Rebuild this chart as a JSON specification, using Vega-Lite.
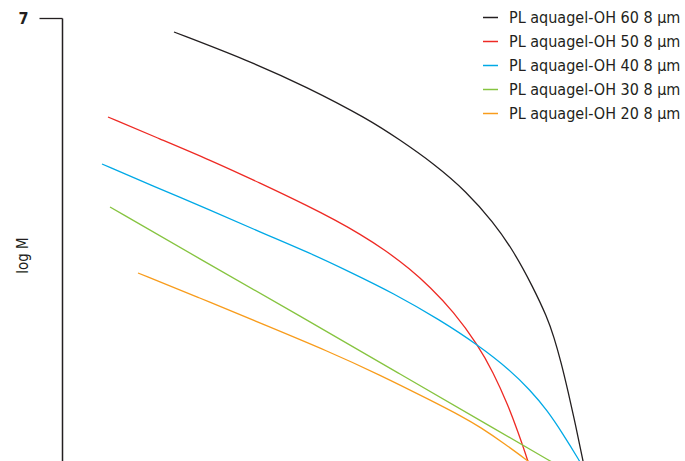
{
  "$schema": "https://vega.github.io/schema/vega-lite/v6.json",
  "width": 623,
  "height": 443,
  "autosize": {"type": "none"},
  "padding": {"left": 62, "top": 18, "right": 0, "bottom": 0},
  "background": "white",
  "config": {"view": {"stroke": null}, "font": "DejaVu Sans Condensed"},
  "data": {"values": [
    {"s": "PL aquagel-OH 60 8 µm", "x": 2.24, "y": 6.86},
    {"s": "PL aquagel-OH 60 8 µm", "x": 3.70, "y": 6.58},
    {"s": "PL aquagel-OH 60 8 µm", "x": 4.90, "y": 6.31},
    {"s": "PL aquagel-OH 60 8 µm", "x": 6.12, "y": 5.99},
    {"s": "PL aquagel-OH 60 8 µm", "x": 6.76, "y": 5.78},
    {"s": "PL aquagel-OH 60 8 µm", "x": 7.42, "y": 5.55},
    {"s": "PL aquagel-OH 60 8 µm", "x": 8.10, "y": 5.26},
    {"s": "PL aquagel-OH 60 8 µm", "x": 8.62, "y": 4.96},
    {"s": "PL aquagel-OH 60 8 µm", "x": 9.02, "y": 4.68},
    {"s": "PL aquagel-OH 60 8 µm", "x": 9.42, "y": 4.31},
    {"s": "PL aquagel-OH 60 8 µm", "x": 9.70, "y": 4.01},
    {"s": "PL aquagel-OH 60 8 µm", "x": 9.84, "y": 3.81},
    {"s": "PL aquagel-OH 60 8 µm", "x": 9.98, "y": 3.56},
    {"s": "PL aquagel-OH 60 8 µm", "x": 10.12, "y": 3.27},
    {"s": "PL aquagel-OH 60 8 µm", "x": 10.28, "y": 2.91},
    {"s": "PL aquagel-OH 60 8 µm", "x": 10.42, "y": 2.57},
    {"s": "PL aquagel-OH 60 8 µm", "x": 10.54, "y": 2.28},
    {"s": "PL aquagel-OH 50 8 µm", "x": 0.92, "y": 6.01},
    {"s": "PL aquagel-OH 50 8 µm", "x": 1.96, "y": 5.79},
    {"s": "PL aquagel-OH 50 8 µm", "x": 2.96, "y": 5.58},
    {"s": "PL aquagel-OH 50 8 µm", "x": 3.96, "y": 5.35},
    {"s": "PL aquagel-OH 50 8 µm", "x": 4.96, "y": 5.11},
    {"s": "PL aquagel-OH 50 8 µm", "x": 5.46, "y": 4.98},
    {"s": "PL aquagel-OH 50 8 µm", "x": 5.96, "y": 4.84},
    {"s": "PL aquagel-OH 50 8 µm", "x": 6.46, "y": 4.68},
    {"s": "PL aquagel-OH 50 8 µm", "x": 6.96, "y": 4.49},
    {"s": "PL aquagel-OH 50 8 µm", "x": 7.36, "y": 4.31},
    {"s": "PL aquagel-OH 50 8 µm", "x": 7.82, "y": 4.07},
    {"s": "PL aquagel-OH 50 8 µm", "x": 8.32, "y": 3.73},
    {"s": "PL aquagel-OH 50 8 µm", "x": 8.62, "y": 3.46},
    {"s": "PL aquagel-OH 50 8 µm", "x": 8.92, "y": 3.13},
    {"s": "PL aquagel-OH 50 8 µm", "x": 9.12, "y": 2.86},
    {"s": "PL aquagel-OH 50 8 µm", "x": 9.32, "y": 2.57},
    {"s": "PL aquagel-OH 50 8 µm", "x": 9.42, "y": 2.40},
    {"s": "PL aquagel-OH 40 8 µm", "x": 0.80, "y": 5.54},
    {"s": "PL aquagel-OH 40 8 µm", "x": 1.82, "y": 5.32},
    {"s": "PL aquagel-OH 40 8 µm", "x": 2.96, "y": 5.08},
    {"s": "PL aquagel-OH 40 8 µm", "x": 3.96, "y": 4.86},
    {"s": "PL aquagel-OH 40 8 µm", "x": 4.96, "y": 4.65},
    {"s": "PL aquagel-OH 40 8 µm", "x": 5.76, "y": 4.46},
    {"s": "PL aquagel-OH 40 8 µm", "x": 6.62, "y": 4.25},
    {"s": "PL aquagel-OH 40 8 µm", "x": 7.56, "y": 3.98},
    {"s": "PL aquagel-OH 40 8 µm", "x": 8.32, "y": 3.73},
    {"s": "PL aquagel-OH 40 8 µm", "x": 8.96, "y": 3.48},
    {"s": "PL aquagel-OH 40 8 µm", "x": 9.36, "y": 3.28},
    {"s": "PL aquagel-OH 40 8 µm", "x": 9.70, "y": 3.08},
    {"s": "PL aquagel-OH 40 8 µm", "x": 10.02, "y": 2.84},
    {"s": "PL aquagel-OH 40 8 µm", "x": 10.34, "y": 2.58},
    {"s": "PL aquagel-OH 40 8 µm", "x": 10.50, "y": 2.44},
    {"s": "PL aquagel-OH 30 8 µm", "x": 0.96, "y": 5.11},
    {"s": "PL aquagel-OH 30 8 µm", "x": 2.76, "y": 4.59},
    {"s": "PL aquagel-OH 30 8 µm", "x": 4.76, "y": 4.02},
    {"s": "PL aquagel-OH 30 8 µm", "x": 6.76, "y": 3.44},
    {"s": "PL aquagel-OH 30 8 µm", "x": 8.76, "y": 2.86},
    {"s": "PL aquagel-OH 30 8 µm", "x": 9.76, "y": 2.57},
    {"s": "PL aquagel-OH 30 8 µm", "x": 10.36, "y": 2.40},
    {"s": "PL aquagel-OH 20 8 µm", "x": 1.52, "y": 4.45},
    {"s": "PL aquagel-OH 20 8 µm", "x": 2.76, "y": 4.20},
    {"s": "PL aquagel-OH 20 8 µm", "x": 3.96, "y": 3.95},
    {"s": "PL aquagel-OH 20 8 µm", "x": 5.36, "y": 3.66},
    {"s": "PL aquagel-OH 20 8 µm", "x": 6.36, "y": 3.43},
    {"s": "PL aquagel-OH 20 8 µm", "x": 7.36, "y": 3.18},
    {"s": "PL aquagel-OH 20 8 µm", "x": 8.02, "y": 3.01},
    {"s": "PL aquagel-OH 20 8 µm", "x": 8.36, "y": 2.91},
    {"s": "PL aquagel-OH 20 8 µm", "x": 8.86, "y": 2.74},
    {"s": "PL aquagel-OH 20 8 µm", "x": 9.32, "y": 2.57},
    {"s": "PL aquagel-OH 20 8 µm", "x": 9.56, "y": 2.48}
  ]},
  "mark": {"type": "line", "clip": true, "strokeWidth": 1.3, "interpolate": "basis"},
  "encoding": {
    "x": {"field": "x", "type": "quantitative", "scale": {"domain": [0, 12.46], "nice": false, "zero": false}, "axis": null},
    "y": {"field": "y", "type": "quantitative", "scale": {"domain": [2.57, 7], "nice": false, "zero": false},
      "axis": {"values": [7], "format": "d", "grid": false, "title": "log M",
        "domainColor": "#231f20", "domainWidth": 1.5, "tickColor": "#231f20", "tickWidth": 1.3, "tickSize": 23,
        "labelFontSize": 16, "labelColor": "#231f20", "labelPadding": 11, "labelFontWeight": "bold",
        "titleFontSize": 15, "titleFontWeight": "normal", "titleColor": "#231f20",
        "titleX": -35, "titleY": 237, "titleBaseline": "alphabetic", "titleAngle": -90}},
    "color": {"field": "s", "type": "nominal",
      "scale": {"domain": ["PL aquagel-OH 60 8 µm", "PL aquagel-OH 50 8 µm", "PL aquagel-OH 40 8 µm", "PL aquagel-OH 30 8 µm", "PL aquagel-OH 20 8 µm"],
        "range": ["#231f20", "#ee2a24", "#00a9e6", "#86c440", "#f89c1c"]},
      "legend": {"title": null, "orient": "none", "legendX": 420, "legendY": -9, "padding": 0,
        "symbolType": "stroke", "symbolSize": 225, "symbolStrokeWidth": 1.5, "labelOffset": 10,
        "labelFontSize": 16, "labelColor": "#231f20", "rowPadding": 7, "labelLimit": 300}}
  }
}
